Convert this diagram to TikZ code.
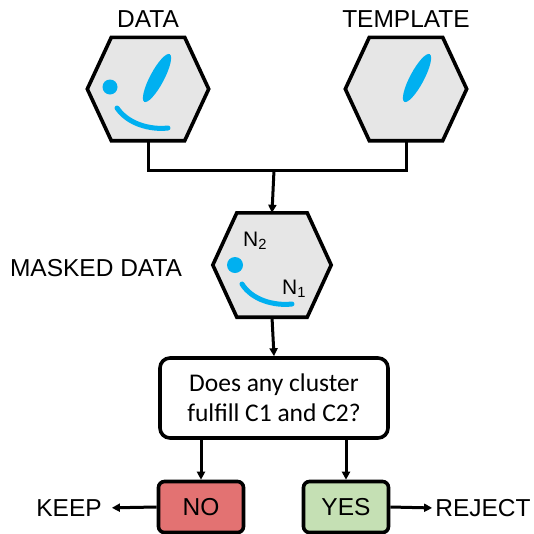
\documentclass[tikz,border=0pt]{standalone}
\usepackage{fontspec}
\setmainfont{Liberation Sans}
\newfontfamily\calib{Carlito}
\usetikzlibrary{arrows.meta}
\definecolor{blobblue}{RGB}{0,176,240}
\definecolor{hexgray}{RGB}{230,230,230}
\definecolor{nored}{RGB}{227,114,114}
\definecolor{yesgreen}{RGB}{197,224,180}
\begin{document}
\begin{tikzpicture}[x=1pt, y=-1pt]
  \tikzstyle{hexcell}=[minimum width=121pt, minimum height=103pt, inner sep=0pt]
  \tikzstyle{hexline}=[draw, line width=3.6pt, fill=hexgray, line join=miter]
  \tikzstyle{answer}=[draw, line width=3.6pt, rounded corners=6pt, minimum width=85pt, minimum height=51pt, font=\fontsize{24.5}{28}\selectfont]
  \tikzstyle{caption}=[font=\fontsize{24.5}{28}\selectfont, inner sep=0pt]
  \tikzstyle{link}=[line width=3pt]
  \tikzstyle{arr}=[link, -{Triangle[length=8pt, width=8pt]}]
  \tikzstyle{blob}=[fill=blobblue]
  \useasboundingbox (0,0) rectangle (534,533);

  \node[hexcell] (data) at (148, 89) {};
  \node[caption] (ldata) at (148, 19) {DATA};

  \node[hexcell] (template) at (406, 89) {};
  \node[caption] (ltemplate) at (406, 19) {TEMPLATE};

  \node[hexcell, minimum width=118pt, minimum height=104pt] (masked) at (272, 265) {};
  \node[caption] (lmasked) at (96, 268) {MASKED DATA};

  \foreach \h in {data, template, masked}
    \draw[hexline] (\h.west) -- ([xshift=24pt]\h.north west) -- ([xshift=-24pt]\h.north east)
      -- (\h.east) -- ([xshift=-24pt]\h.south east) -- ([xshift=24pt]\h.south west) -- cycle;

  % clusters
  \fill[blob] (110, 87) circle (7.5pt);
  \fill[blob, rotate around={62:(157,78)}] (157, 78) ellipse [x radius=27pt, y radius=7pt];
  \draw[blobblue, line width=5pt, line cap=round] (117, 108) .. controls (128, 124) and (150, 130) .. (168, 128);

  \fill[blob, rotate around={62:(417,78)}] (417, 78) ellipse [x radius=27pt, y radius=7pt];

  \fill[blob] (235, 265) circle (8pt);
  \draw[blobblue, line width=5pt, line cap=round] (242, 284) .. controls (252, 300) and (274, 306) .. (292, 304);
  \node[font=\fontsize{21}{24}\selectfont, inner sep=0pt] (n2) at (255, 241) {N\textsubscript{2}};
  \node[font=\fontsize{21}{24}\selectfont, inner sep=0pt] (n1) at (294, 289) {N\textsubscript{1}};

  \node[draw, line width=3.6pt, rounded corners=10pt, minimum width=228pt, minimum height=80pt,
        align=center, font=\calib\fontsize{25.5}{30}\selectfont] (ask) at (274, 398)
        {Does any cluster\\fulfill C1 and C2?};

  \node[answer, fill=nored] (no) at (201, 507) {NO};
  \node[answer, fill=yesgreen] (yes) at (346, 507) {YES};
  \node[caption] (keep) at (69, 508) {KEEP};
  \node[caption] (reject) at (483, 508) {REJECT};

  \coordinate (join) at (274, 170);
  \draw[link] (data.south) |- (join);
  \draw[link] (template.south) |- (join);
  \draw[arr] (join) -- (masked.north);
  \draw[arr] (masked.south) -- (ask.north);
  \draw[arr] (no.north |- ask.south) -- (no.north);
  \draw[arr] (yes.north |- ask.south) -- (yes.north);
  \draw[arr, shorten >=10pt] (no.west) -- (keep.east);
  \draw[arr, shorten >=3pt] (yes.east) -- (reject.west);
\end{tikzpicture}
\end{document}
